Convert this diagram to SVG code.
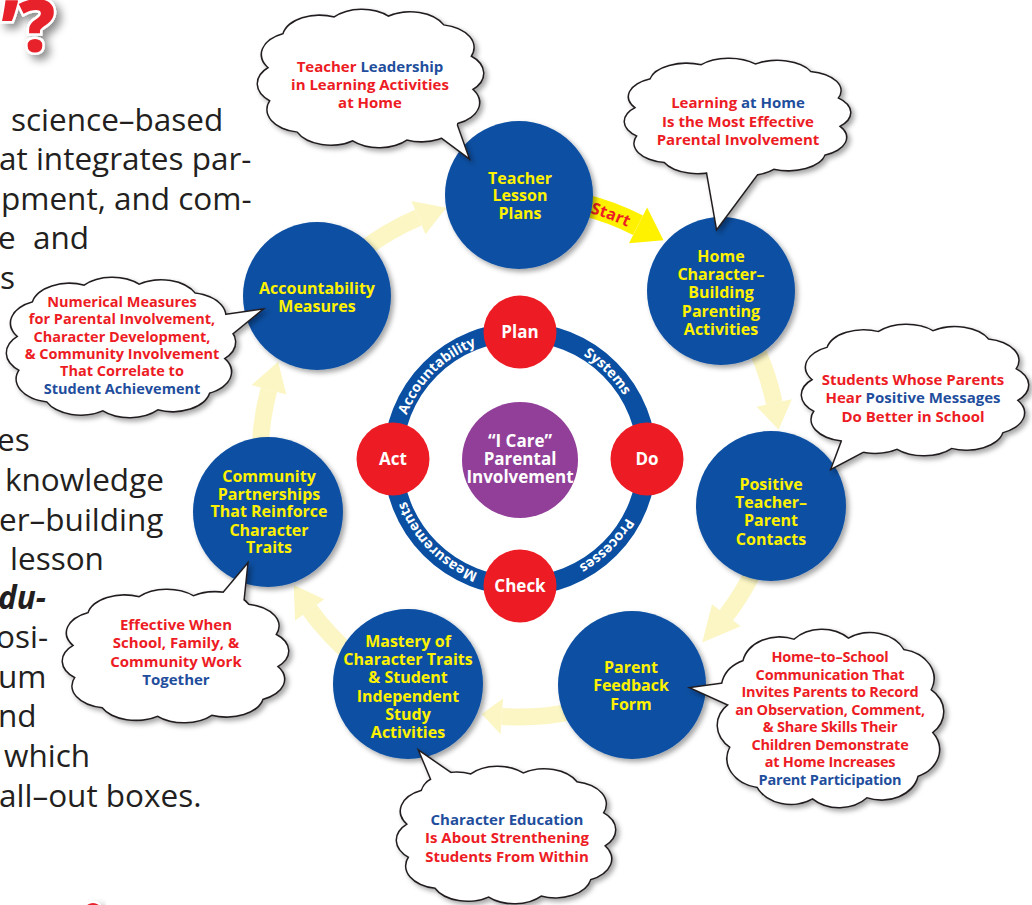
<svg xmlns="http://www.w3.org/2000/svg" xmlns:xlink="http://www.w3.org/1999/xlink" width="1032" height="905" viewBox="0 0 1032 905">
<defs>
<style>
.body{font-family:"Open Sans","Liberation Sans",sans-serif;font-size:31.5px;fill:#231f20}
.nt{font-family:"Open Sans","Liberation Sans",sans-serif;font-weight:700;font-size:16px;fill:#fff200;text-anchor:middle}
.ct{font-family:"Open Sans","Liberation Sans",sans-serif;font-weight:700;font-size:15px;fill:#ed1c24;text-anchor:middle}
.cs{font-size:14.5px}
.bl{fill:#1f4e9d}
.rt{font-family:"Open Sans","Liberation Sans",sans-serif;font-weight:700;font-size:14px;fill:#fff;text-anchor:middle}
.pd{font-family:"Open Sans","Liberation Sans",sans-serif;font-weight:700;font-size:17px;fill:#fff;text-anchor:middle}
.bc{fill:#0a4fa2}
.rc{fill:#ed1c24}
.ab{fill:none;stroke:#fbf6c4;stroke-width:17}
.ah{fill:#fbf6c4}
.sb{fill:none;stroke:#fff200;stroke-width:22}
.sh{fill:#fff200}
.ol{fill:#fff;stroke:#231f20;stroke-width:3;stroke-linejoin:miter}
.fl{fill:#fff;stroke:none}
</style>
<filter id="ds" x="-20%" y="-20%" width="140%" height="140%"><feDropShadow dx="3" dy="3" stdDeviation="2.5" flood-color="#000" flood-opacity="0.35"/></filter>
<filter id="qs" x="-30%" y="-30%" width="160%" height="160%"><feDropShadow dx="5" dy="5" stdDeviation="4" flood-color="#000" flood-opacity="0.45"/></filter>
<path id="cl" vector-effect="non-scaling-stroke" d="M0.998 0.176A.36 .36 0 0 1 .857 .719A.36 .36 0 0 1 .358 .984A.36 .36 0 0 1 -.176 .998A.36 .36 0 0 1 -.719 .857A.36 .36 0 0 1 -.984 .358A.36 .36 0 0 1 -.998 -.176A.36 .36 0 0 1 -.857 -.719A.36 .36 0 0 1 -.358 -.984A.36 .36 0 0 1 .176 -.998A.36 .36 0 0 1 .719 -.857A.36 .36 0 0 1 .984 -.358A.36 .36 0 0 1 .998 .176Z"/>
<path id="ringPath" d="M398.5 459A121.5 121.5 0 1 1 641.5 459A121.5 121.5 0 1 1 398.5 459" fill="none"/>
<path id="startPath" d="M572.8 208.6A254 254 0 0 1 643.1 234.9" fill="none"/>
</defs>
<rect width="1032" height="905" fill="#fff"/>

<g id="heading">
<text x="55" y="52" text-anchor="end" font-family="'Open Sans','Liberation Sans',sans-serif" font-weight="800" font-size="72" fill="#e8202a" stroke="#fff" stroke-width="5" paint-order="stroke" filter="url(#qs)">’?</text>
<ellipse cx="93" cy="908" rx="8" ry="6" fill="#e8202a" stroke="#fff" stroke-width="2" filter="url(#qs)"/>
</g>

<g id="body-text" class="body">
<text x="11" y="131">science–based</text>
<text x="-1" y="170">at integrates par-</text>
<text x="1" y="210">pment, and com-</text>
<text x="-2" y="249">e</text>
<text x="33" y="249">and</text>
<text x="0" y="289">s</text>
<text x="-3" y="451">es</text>
<text x="5" y="491">knowledge</text>
<text x="-1" y="531">er–building</text>
<text x="10" y="570">lesson</text>
<text x="-2" y="609" font-weight="700" font-style="italic">du-</text>
<text x="-4" y="648">osi-</text>
<text x="-2" y="688">um</text>
<text x="-2" y="727">nd</text>
<text x="4" y="767">which</text>
<text x="-1" y="807">all–out boxes.</text>
</g>

<g id="connectors">
<path class="ab" d="M359.9 252.1A260 260 0 0 1 418.4 217.7"/>
<polygon class="ah" points="425.5,234.2 411.4,201.1 446.2,207.7"/>
<path class="sb" d="M582.9 204.7A260 260 0 0 1 638.0 225.3"/>
<polygon class="sh" points="629.0,243.2 647.1,207.5 663.5,240.2"/>
<text font-family="'Open Sans','Liberation Sans',sans-serif" font-weight="700" font-size="16" fill="#ed1c24"><textPath href="#startPath" startOffset="50%" text-anchor="middle">Start</textPath></text>
<path class="ab" d="M751.7 339.0A260 260 0 0 1 774.3 402.9"/>
<polygon class="ah" points="756.7,406.7 791.9,399.2 778.6,429.8"/>
<path class="ab" d="M757.5 562.7A260 260 0 0 1 726.3 615.3"/>
<polygon class="ah" points="712.0,604.3 740.6,626.2 702.2,642.5"/>
<path class="ab" d="M574.1 711.3A260 260 0 0 1 501.9 716.4"/>
<polygon class="ah" points="503.1,698.4 500.6,734.3 481.6,714.1"/>
<path class="ab" d="M352.9 656.2A260 260 0 0 1 309.7 609.8"/>
<polygon class="ah" points="324.2,599.2 295.1,620.4 293.7,585.0"/>
<path class="ab" d="M260.2 447.9A260 260 0 0 1 268.9 389.7"/>
<polygon class="ah" points="286.3,394.4 251.5,385.1 278.1,361.7"/>
</g>

<g id="cycle">
<circle cx="520" cy="459" r="127" fill="none" stroke="#0a4fa2" stroke-width="19"/>
<text class="rt"><textPath href="#ringPath" startOffset="12.5%">Accountability</textPath></text>
<text class="rt"><textPath href="#ringPath" startOffset="37.5%">Systems</textPath></text>
<text class="rt"><textPath href="#ringPath" startOffset="62.5%">Processes</textPath></text>
<text class="rt"><textPath href="#ringPath" startOffset="87.5%">Measurements</textPath></text>
</g>
<g id="node-plan"><circle class="rc" cx="520" cy="332" r="36.5"/><text class="pd" x="520" y="338">Plan</text></g>
<g id="node-do"><circle class="rc" cx="647" cy="459" r="36.5"/><text class="pd" x="647" y="465">Do</text></g>
<g id="node-check"><circle class="rc" cx="520" cy="586" r="36.5"/><text class="pd" x="520" y="592">Check</text></g>
<g id="node-act"><circle class="rc" cx="393" cy="459" r="36.5"/><text class="pd" x="393" y="465">Act</text></g>
<g id="node-center"><circle cx="520" cy="460" r="58" fill="#913f98"/>
<text class="pd" font-size="16" x="520" y="447">“I Care”</text>
<text class="pd" font-size="16" x="520" y="465">Parental</text>
<text class="pd" font-size="16" font-weight="600" x="520" y="483">Involvement</text></g>

<g id="node-teacher"><circle class="bc" cx="519" cy="195" r="74" filter="url(#ds)"/>
<text class="nt" x="520"><tspan x="520" y="184">Teacher</tspan><tspan x="520" y="201">Lesson</tspan><tspan x="520" y="219">Plans</tspan></text></g>
<g id="node-home"><circle class="bc" cx="721" cy="291" r="74" filter="url(#ds)"/>
<text class="nt"><tspan x="721" y="262">Home</tspan><tspan x="721" y="280">Character–</tspan><tspan x="721" y="298">Building</tspan><tspan x="721" y="317">Parenting</tspan><tspan x="721" y="335">Activities</tspan></text></g>
<g id="node-positive"><circle class="bc" cx="771" cy="506" r="75" filter="url(#ds)"/>
<text class="nt"><tspan x="771" y="490">Positive</tspan><tspan x="771" y="508">Teacher–</tspan><tspan x="771" y="526">Parent</tspan><tspan x="771" y="545">Contacts</tspan></text></g>
<g id="node-feedback"><circle class="bc" cx="632" cy="685" r="74" filter="url(#ds)"/>
<text class="nt"><tspan x="631" y="673">Parent</tspan><tspan x="631" y="691">Feedback</tspan><tspan x="631" y="710">Form</tspan></text></g>
<g id="node-mastery"><circle class="bc" cx="408" cy="684" r="75" filter="url(#ds)"/>
<text class="nt"><tspan x="408" y="647">Mastery of</tspan><tspan x="408" y="665">Character Traits</tspan><tspan x="408" y="683">&amp; Student</tspan><tspan x="408" y="702">Independent</tspan><tspan x="408" y="720">Study</tspan><tspan x="408" y="738">Activities</tspan></text></g>
<g id="node-community"><circle class="bc" cx="268" cy="512" r="75" filter="url(#ds)"/>
<text class="nt"><tspan x="269" y="482">Community</tspan><tspan x="269" y="500">Partnerships</tspan><tspan x="269" y="517">That Reinforce</tspan><tspan x="269" y="536">Character</tspan><tspan x="269" y="553">Traits</tspan></text></g>
<g id="node-accountability"><circle class="bc" cx="317" cy="296" r="74" filter="url(#ds)"/>
<text class="nt"><tspan x="317" y="294">Accountability</tspan><tspan x="317" y="312">Measures</tspan></text></g>

<g id="callout-a">
<g filter="url(#ds)">
<use href="#cl" class="ol" transform="translate(370.5 78.5) scale(101.4 61.7)"/>
<polygon class="ol" points="468,157 425,125 452,112"/>
<use href="#cl" class="fl" transform="translate(370.5 78.5) scale(101.4 61.7)"/>
<polygon class="fl" points="468,157 425,125 452,112"/>
</g>
<text class="ct"><tspan x="370" y="72">Teacher <tspan class="bl">Leadership</tspan></tspan><tspan x="370" y="90">in Learning Activities</tspan><tspan x="370" y="108">at Home</tspan></text>
</g>

<g id="callout-b">
<g filter="url(#ds)">
<use href="#cl" class="ol" transform="translate(737.5 117) scale(101.4 52.3)"/>
<polygon class="ol" points="717,228 705,160 775,150"/>
<use href="#cl" class="fl" transform="translate(737.5 117) scale(101.4 52.3)"/>
<polygon class="fl" points="717,228 705,160 775,150"/>
</g>
<text class="ct"><tspan x="738" y="108">Learning <tspan class="bl">at Home</tspan></tspan><tspan x="738" y="127">Is the Most Effective</tspan><tspan x="738" y="145">Parental Involvement</tspan></text>
</g>

<g id="callout-c">
<g filter="url(#ds)">
<use href="#cl" class="ol" transform="translate(915 390) scale(101.8 58.6)"/>
<polygon class="ol" points="832,468 850,420 885,440"/>
<use href="#cl" class="fl" transform="translate(915 390) scale(101.8 58.6)"/>
<polygon class="fl" points="832,468 850,420 885,440"/>
</g>
<text class="ct"><tspan x="913" y="385">Students Whose Parents</tspan><tspan x="913" y="403">Hear <tspan class="bl">Positive Messages</tspan></tspan><tspan x="913" y="422">Do Better in School</tspan></text>
</g>

<g id="callout-d">
<g filter="url(#ds)">
<use href="#cl" class="ol" transform="translate(121 347.5) scale(102.7 62.6)"/>
<polygon class="ol" points="261,310 205,318 212,350"/>
<use href="#cl" class="fl" transform="translate(121 347.5) scale(102.7 62.6)"/>
<polygon class="fl" points="261,310 205,318 212,350"/>
</g>
<text class="ct cs"><tspan x="122" y="307">Numerical Measures</tspan><tspan x="122" y="324.3">for Parental Involvement,</tspan><tspan x="122" y="341.6">Character Development,</tspan><tspan x="122" y="358.9">&amp; Community Involvement</tspan><tspan x="122" y="376.2">That Correlate to</tspan><tspan x="122" y="393.5" class="bl">Student Achievement</tspan></text>
</g>

<g id="callout-e">
<g filter="url(#ds)">
<use href="#cl" class="ol" transform="translate(175.5 656) scale(101.4 59.5)"/>
<polygon class="ol" points="247,565 205,615 240,632"/>
<use href="#cl" class="fl" transform="translate(175.5 656) scale(101.4 59.5)"/>
<polygon class="fl" points="247,565 205,615 240,632"/>
</g>
<text class="ct"><tspan x="176" y="630">Effective When</tspan><tspan x="176" y="648">School, Family, &amp;</tspan><tspan x="176" y="667">Community Work</tspan><tspan x="176" y="685" class="bl">Together</tspan></text>
</g>

<g id="callout-f">
<g filter="url(#ds)">
<use href="#cl" class="ol" transform="translate(506 835) scale(98.2 61.3)"/>
<polygon class="ol" points="420,752 440,800 475,790"/>
<use href="#cl" class="fl" transform="translate(506 835) scale(98.2 61.3)"/>
<polygon class="fl" points="420,752 440,800 475,790"/>
</g>
<text class="ct"><tspan x="507" y="825" class="bl">Character Education</tspan><tspan x="507" y="843">Is About Strenthening</tspan><tspan x="507" y="862">Students From Within</tspan></text>
</g>

<g id="callout-g">
<g filter="url(#ds)">
<use href="#cl" class="ol" transform="translate(830.5 718.5) scale(101.4 79.7)"/>
<polygon class="ol" points="692,688 750,680 745,712"/>
<use href="#cl" class="fl" transform="translate(830.5 718.5) scale(101.4 79.7)"/>
<polygon class="fl" points="692,688 750,680 745,712"/>
</g>
<text class="ct cs" letter-spacing="-0.2"><tspan x="830" y="662">Home–to–School</tspan><tspan x="830" y="679.5">Communication That</tspan><tspan x="830" y="697">Invites Parents to Record</tspan><tspan x="830" y="714.5">an Observation, Comment,</tspan><tspan x="830" y="732">&amp; Share Skills Their</tspan><tspan x="830" y="749.5">Children Demonstrate</tspan><tspan x="830" y="767">at Home Increases</tspan><tspan x="830" y="784.5" class="bl">Parent Participation</tspan></text>
</g>
</svg>
